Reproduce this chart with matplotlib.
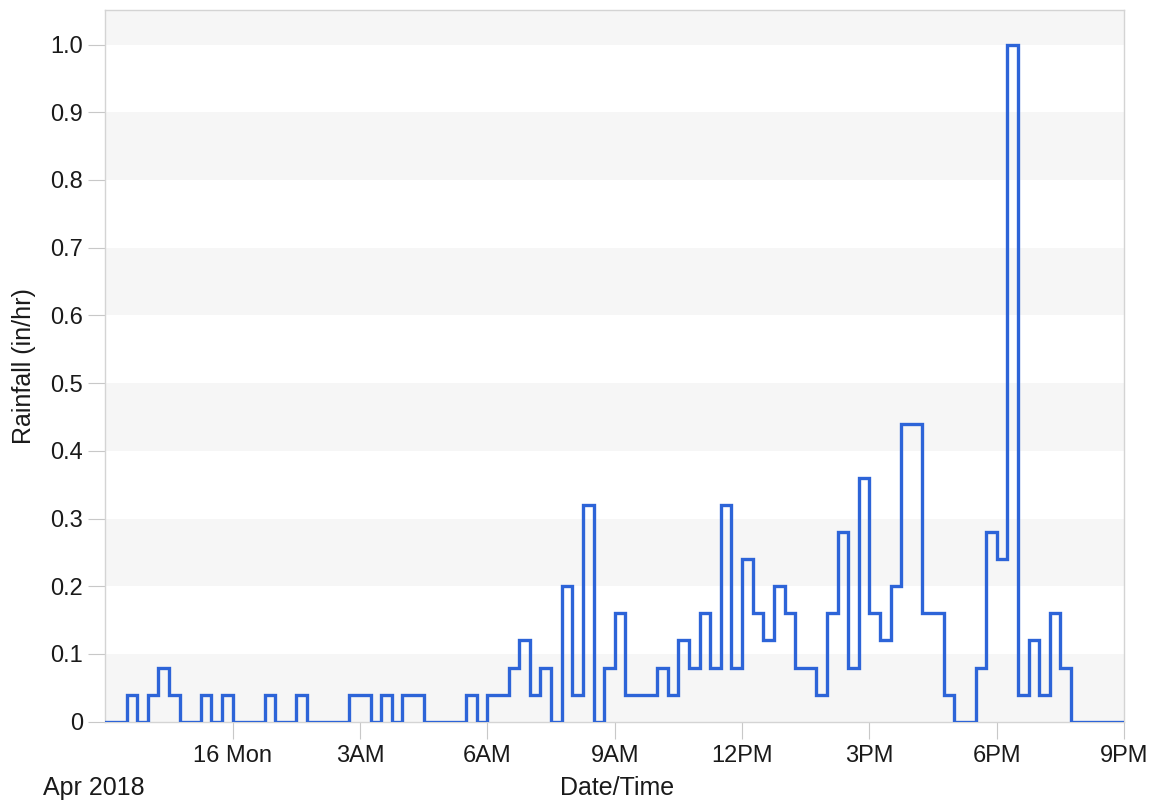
import numpy as np
import pandas as pd
import matplotlib
matplotlib.use('Agg')
import matplotlib.pyplot as plt

plt.rcParams['font.family'] = ['Liberation Sans', 'DejaVu Sans']

# 15-minute rainfall intensity (in/hr), 21:00 Apr 15 -> 21:00 Apr 16 2018
rain = [0, 0, 0.04, 0, 0.04, 0.08, 0.04, 0, 0, 0.04, 0, 0.04,
        0, 0, 0, 0.04, 0, 0, 0.04, 0, 0, 0, 0, 0.04,
        0.04, 0, 0.04, 0, 0.04, 0.04, 0, 0, 0, 0, 0.04, 0,
        0.04, 0.04, 0.08, 0.12, 0.04, 0.08, 0, 0.20, 0.04, 0.32, 0, 0.08,
        0.16, 0.04, 0.04, 0.04, 0.08, 0.04, 0.12, 0.08, 0.16, 0.08, 0.32, 0.08,
        0.24, 0.16, 0.12, 0.20, 0.16, 0.08, 0.08, 0.04, 0.16, 0.28, 0.08, 0.36,
        0.16, 0.12, 0.20, 0.44, 0.44, 0.16, 0.16, 0.04, 0, 0, 0.08, 0.28,
        0.24, 1.00, 0.04, 0.12, 0.04, 0.16, 0.08, 0, 0, 0, 0, 0]

start = '2018-04-15 21:00'
end = '2018-04-16 21:00'
tick_times = ['2018-04-16 00:00', '2018-04-16 03:00', '2018-04-16 06:00', '2018-04-16 09:00',
              '2018-04-16 12:00', '2018-04-16 15:00', '2018-04-16 18:00', '2018-04-16 21:00']
tick_labels = ['16 Mon', '3AM', '6AM', '9AM', '12PM', '3PM', '6PM', '9PM']
y_ticks = [0, 0.1, 0.2, 0.3, 0.4, 0.5, 0.6, 0.7, 0.8, 0.9, 1.0]
y_labels = ['0', '0.1', '0.2', '0.3', '0.4', '0.5', '0.6', '0.7', '0.8', '0.9', '1.0']

times = pd.date_range(start, end, freq='15min')
vals = rain + [rain[-1]]

fig = plt.figure(figsize=(11.58, 8.05), dpi=100)
ax = fig.add_axes([0.091, 0.1035, 0.8797, 0.8841])

# alternating light bands
for k in range(0, 11, 2):
    ax.axhspan(k * 0.1, (k + 1) * 0.1, color='#f6f6f6', lw=0, zorder=0)

ax.step(times, vals, where='post', color='#2d64d8', lw=2.4, zorder=3,
        solid_joinstyle='miter')

ax.set_xlim(pd.Timestamp(start), pd.Timestamp(end))
ax.set_ylim(0, 1.051)

ax.set_xticks(pd.to_datetime(tick_times))
ax.set_xticklabels(tick_labels)
ax.set_yticks(y_ticks)
ax.set_yticklabels(y_labels)

ax.tick_params(axis='x', length=12, color='#c8c8c8', pad=5, labelsize=17, labelcolor='#1a1a1a')
ax.tick_params(axis='y', length=12, color='#c8c8c8', pad=4, labelsize=17, labelcolor='#1a1a1a')
for s in ax.spines.values():
    s.set_color('#d4d4d4')
    s.set_linewidth(1)

ax.set_ylabel('Rainfall (in/hr)', fontsize=18, color='#1a1a1a')
ax.yaxis.set_label_coords(-0.068, 0.5)

fig.text(0.037, 0.021, 'Apr 2018', fontsize=18, color='#1a1a1a', va='center', ha='left')
fig.text(0.533, 0.021, 'Date/Time', fontsize=18, color='#1a1a1a', va='center', ha='center')

plt.savefig('out.png', dpi=100)
